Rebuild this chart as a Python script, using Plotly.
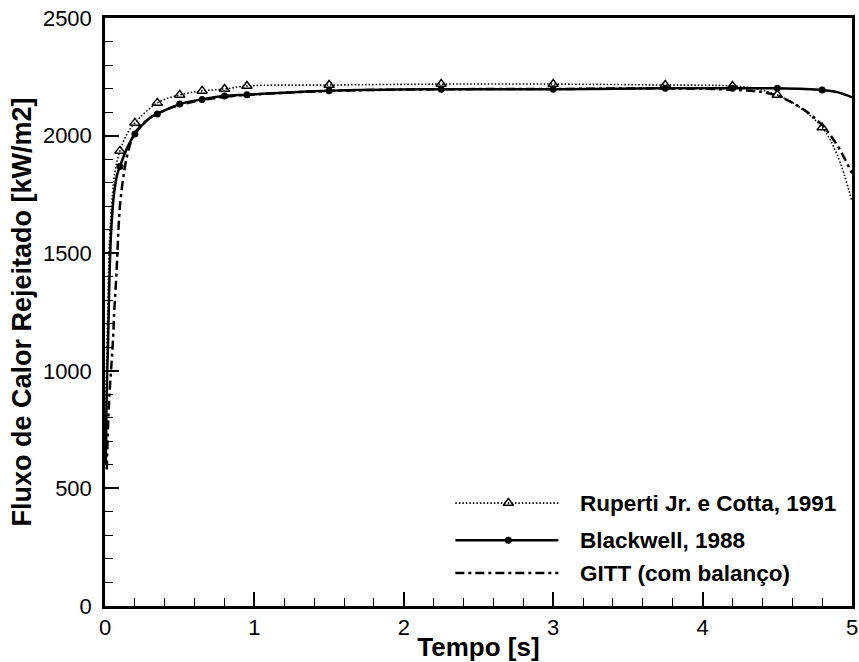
import plotly.graph_objects as go

# Tempo [s] e fluxo de calor rejeitado [kW/m2] de cada solução
t_ruperti = [0.005, 0.01, 0.02, 0.03, 0.05, 0.07, 0.10, 0.15, 0.20, 0.35, 0.50, 0.65,
             0.80, 0.95, 1.50, 2.25, 3.00, 3.75, 4.20, 4.35, 4.50, 4.65, 4.80, 4.90, 5.00]
q_ruperti = [700, 1000, 1300, 1550, 1750, 1860, 1935, 2010, 2054, 2139, 2173, 2190,
             2198, 2211, 2215, 2219, 2219, 2215, 2211, 2200, 2173, 2120, 2034, 1920, 1720]

t_blackwell = [0.005, 0.01, 0.015, 0.02, 0.03, 0.04, 0.05, 0.06, 0.08, 0.10, 0.15, 0.20,
               0.30, 0.35, 0.50, 0.65, 0.80, 0.95, 1.50, 2.25, 3.00, 3.75, 4.20, 4.50,
               4.80, 4.90, 5.00]
q_blackwell = [600, 850, 1000, 1100, 1400, 1580, 1680, 1750, 1830, 1869, 1950, 2007,
               2075, 2092, 2134, 2154, 2168, 2174, 2191, 2197, 2197, 2201, 2201, 2201,
               2194, 2185, 2163]

t_gitt = [0.012, 0.02, 0.03, 0.045, 0.055, 0.06, 0.078, 0.09, 0.10, 0.12, 0.15, 0.20,
          0.30, 0.50, 0.80, 1.00, 1.50, 2.25, 3.00, 3.75, 4.20, 4.40, 4.50, 4.60, 4.70,
          4.80, 4.90, 5.00]
q_gitt = [580, 760, 900, 1046, 1150, 1229, 1430, 1600, 1700, 1811, 1920, 2010,
          2075, 2130, 2165, 2175, 2190, 2197, 2198, 2201, 2195, 2185, 2170, 2140, 2100,
          2045, 1960, 1840]

# Pontos marcados sobre as curvas
t_marks = [0.10, 0.20, 0.35, 0.50, 0.65, 0.80, 0.95, 1.50, 2.25, 3.00, 3.75, 4.20, 4.50, 4.80]
q_marks_ruperti = [1935, 2054, 2139, 2173, 2190, 2198, 2211, 2215, 2219, 2219, 2215, 2211, 2173, 2034]
q_marks_blackwell = [1869, 2007, 2092, 2134, 2154, 2168, 2174, 2191, 2197, 2197, 2201, 2201, 2201, 2194]

names = ["Ruperti Jr. e Cotta, 1991", "Blackwell, 1988", "GITT (com balanço)"]

FONT = "Liberation Sans, Arial, sans-serif"
DOT = dict(color="black", width=1.6, dash="1.5px,2px")
SOLID = dict(color="black", width=2.5)
DASHDOT = dict(color="black", width=2.5, dash="9px,4px,3px,4px")
TRI = dict(symbol="triangle-up-open", size=9, color="black", line=dict(color="black", width=1.5))
CIRC = dict(symbol="circle", size=7, color="black")

fig = go.Figure()

fig.add_trace(go.Scatter(x=t_ruperti, y=q_ruperti, mode="lines", line=DOT, line_shape="spline"))
fig.add_trace(go.Scatter(x=t_marks, y=q_marks_ruperti, mode="markers", marker=TRI))
fig.add_trace(go.Scatter(x=t_gitt, y=q_gitt, mode="lines", line=DASHDOT, line_shape="spline"))
fig.add_trace(go.Scatter(x=t_blackwell, y=q_blackwell, mode="lines", line=SOLID, line_shape="spline"))
fig.add_trace(go.Scatter(x=t_marks, y=q_marks_blackwell, mode="markers", marker=CIRC))

# Legenda desenhada num eixo auxiliar de 0 a 1 sobreposto à área do gráfico
leg_x0, leg_x1, leg_xm = 0.469, 0.607, 0.54
leg_rows = [0.175, 0.112, 0.056]
styles = [(DOT, TRI), (SOLID, CIRC), (DASHDOT, None)]
for yrow, (ln, mk) in zip(leg_rows, styles):
    fig.add_trace(go.Scatter(x=[leg_x0, leg_x1], y=[yrow, yrow], mode="lines", line=ln,
                             xaxis="x2", yaxis="y2"))
    if mk is not None:
        fig.add_trace(go.Scatter(x=[leg_xm], y=[yrow], mode="markers", marker=mk,
                                 xaxis="x2", yaxis="y2"))
for yrow, name in zip(leg_rows, names):
    fig.add_annotation(x=0.633, y=yrow, xref="x2", yref="y2", text=name, showarrow=False,
                       xanchor="left", yanchor="middle",
                       font=dict(family=FONT, size=22.5, color="black", weight="bold"))

axis_common = dict(showgrid=False, zeroline=False, showline=True, linecolor="black",
                   linewidth=2.5, mirror=True, ticks="inside", ticklen=14, tickwidth=2,
                   tickcolor="black", automargin=False,
                   tickfont=dict(family=FONT, size=22, color="black"))

fig.update_layout(
    width=859, height=662,
    margin=dict(l=105, r=7, t=18, b=56),
    paper_bgcolor="white", plot_bgcolor="white",
    showlegend=False,
    xaxis=dict(range=[0, 5], tick0=0, dtick=1,
               minor=dict(ticks="inside", ticklen=8, tickwidth=1.2, tickcolor="black", dtick=0.2),
               ticklabelstandoff=0,
               title=dict(text="Tempo [s]", standoff=2,
                          font=dict(family=FONT, size=26, color="black", weight="bold")),
               **axis_common),
    yaxis=dict(range=[0, 2500], tick0=0, dtick=500,
               minor=dict(ticks="inside", ticklen=8, tickwidth=1.2, tickcolor="black", dtick=100),
               ticklabelstandoff=6,
               title=dict(text="Fluxo de Calor Rejeitado [kW/m2]", standoff=4,
                          font=dict(family=FONT, size=27, color="black", weight="bold")),
               **axis_common),
    xaxis2=dict(overlaying="x", range=[0, 1], visible=False),
    yaxis2=dict(overlaying="y", range=[0, 1], visible=False),
)

fig.write_html("out.html")
